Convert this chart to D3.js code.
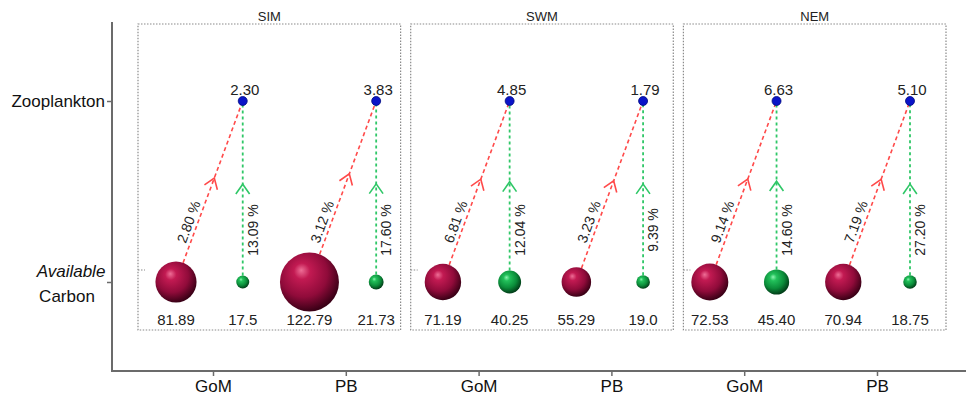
<!DOCTYPE html>
<html>
<head>
<meta charset="utf-8">
<script src="https://cdn.jsdelivr.net/npm/d3@7"></script>
<style>
  body{margin:0;background:#fff;}
  svg{font-family:"Liberation Sans",Arial,sans-serif;}
</style>
</head>
<body>
<svg id="drawing_region"></svg>
<script>
// data
const regions = ["SIM","SWM","NEM"]
const sites = ["GoM","PB"]
const levels = ["Available Carbon","Zooplankton"]
const redCarbon = ["81.89","122.79","71.19","55.29","72.53","70.94"]
const greenCarbon = ["17.5","21.73","40.25","19.0","45.40","18.75"]
const zooCarbon = ["2.30","3.83","4.85","1.79","6.63","5.10"]
const redPct = ["2.80","3.12","6.81","3.23","9.14","7.19"]
const greenPct = ["13.09","17.60","12.04","9.39","14.60","27.20"]

const config = {
    parent:"#drawing_region",
    width:966,
    height:402
}

const svg = d3.select(config.parent)
    .attr("width",config.width)
    .attr("height",config.height)

const defs = svg.append("defs")
function ball(id,stops){
    const g = defs.append("radialGradient")
        .attr("id",id)
        .attr("cx","42%").attr("cy","38%").attr("r","62%")
        .attr("fx","36%").attr("fy","30%")
    stops.forEach(s=>{
        g.append("stop").attr("offset",s[0]).attr("stop-color",s[1])
    })
}
ball("redBall",[[0,"#ee6e96"],[0.22,"#c21a52"],[0.65,"#900b3a"],[1,"#3a0016"]])
ball("greenBall",[[0,"#8cf5b0"],[0.22,"#22c05a"],[0.65,"#0b8d3a"],[1,"#023d18"]])

// scales
const flows = d3.range(regions.length*sites.length).map(i=>({
    i:i,
    region:regions[Math.floor(i/2)],
    site:sites[i%2],
    red:+redCarbon[i], redLabel:redCarbon[i],
    green:+greenCarbon[i], greenLabel:greenCarbon[i],
    zoo:zooCarbon[i],
    redPct:redPct[i], greenPct:greenPct[i]
}))

const xslot = d3.scalePoint()
    .domain(d3.range(flows.length*2))
    .range([176,910])
const xaxisScale = d3.scalePoint()
    .domain(flows.map(d=>d.region+"-"+d.site))
    .range([213,877])
const panel = d3.scaleBand()
    .domain(regions)
    .range([138,946])
    .paddingInner(0.037)
const yscale = d3.scalePoint()
    .domain(levels)
    .range([282,101])
const rscale = d3.scaleLinear()
    .domain([17.5,122.79])
    .range([6.5,29.5])

// axes
const axisColor = "#6b6b6b"
svg.append("line")
    .attr("x1",112).attr("x2",112)
    .attr("y1",22).attr("y2",371)
    .attr("stroke",axisColor).attr("stroke-width",2)
svg.append("line")
    .attr("x1",111).attr("x2",966)
    .attr("y1",371).attr("y2",371)
    .attr("stroke",axisColor).attr("stroke-width",2)

const xaxis_group = svg.append("g")
    .attr("transform","translate(0,371)")
    .call(d3.axisBottom(xaxisScale).tickSize(5).tickPadding(4).tickFormat(d=>d.split("-")[1]))
xaxis_group.select(".domain").remove()
xaxis_group.selectAll("line").attr("stroke",axisColor).attr("stroke-width",1.5)
xaxis_group.selectAll("text")
    .attr("font-size","17px")
    .attr("font-family","Liberation Sans, Arial, sans-serif")
    .attr("fill","#111")

const yaxis_group = svg.append("g")
    .attr("transform","translate(112,0)")
    .call(d3.axisLeft(yscale).tickSize(5).tickFormat(""))
yaxis_group.select(".domain").remove()
yaxis_group.selectAll("line").attr("stroke",axisColor).attr("stroke-width",1.5)

svg.append("text")
    .attr("x",105).attr("y",yscale("Zooplankton"))
    .attr("dy","0.36em")
    .attr("text-anchor","end")
    .attr("font-size","17px")
    .attr("fill","#111")
    .text("Zooplankton")
const avail = svg.append("text")
    .attr("text-anchor","middle")
    .attr("font-size","17px")
    .attr("fill","#111")
avail.append("tspan")
    .attr("x",71).attr("y",yscale("Available Carbon")-5)
    .attr("font-style","italic")
    .text("Available")
avail.append("tspan")
    .attr("x",67).attr("y",yscale("Available Carbon")+20)
    .text("Carbon")

// panels
const panels = svg.append("g")
panels.selectAll("rect")
    .data(regions)
    .enter()
    .append("rect")
    .attr("x",d=>panel(d))
    .attr("y",24)
    .attr("width",panel.bandwidth())
    .attr("height",306)
    .attr("fill","none")
    .attr("stroke","#8a8a8a")
    .attr("stroke-width",1.2)
    .attr("stroke-dasharray","1.5,1.5")
panels.selectAll("line")
    .data(regions)
    .enter()
    .append("line")
    .attr("x1",d=>panel(d)).attr("x2",d=>panel(d)+7)
    .attr("y1",270).attr("y2",270)
    .attr("stroke","#8a8a8a")
    .attr("stroke-width",1.2)
    .attr("stroke-dasharray","1.5,1.5")
panels.selectAll("text")
    .data(regions)
    .enter()
    .append("text")
    .attr("x",d=>panel(d)+panel.bandwidth()/2)
    .attr("y",21)
    .attr("text-anchor","middle")
    .attr("font-size","13px")
    .attr("fill","#222")
    .text(d=>d)

// flows
const chart = svg.append("g")
const yC = yscale("Available Carbon")
const yZ = yscale("Zooplankton")

function geom(x0,r,x1){
    const dx = x1-x0, dy = yZ-yC
    const len = Math.sqrt(dx*dx+dy*dy)
    const ux = dx/len, uy = dy/len
    const sx = x0+ux*r, sy = yC+uy*r
    return {sx:sx,sy:sy,ux:ux,uy:uy,ex:x1,ey:yZ,
        mx:(sx+x1)/2+ux*4, my:(sy+yZ)/2+uy*4}
}
function chevron(g){
    const L = 12, a = 35*Math.PI/180
    const bx = -g.ux, by = -g.uy
    const p1 = [g.mx+L*(bx*Math.cos(a)-by*Math.sin(a)), g.my+L*(bx*Math.sin(a)+by*Math.cos(a))]
    const p2 = [g.mx+L*(bx*Math.cos(-a)-by*Math.sin(-a)), g.my+L*(bx*Math.sin(-a)+by*Math.cos(-a))]
    return `M${p1[0]},${p1[1]}L${g.mx},${g.my}L${p2[0]},${p2[1]}`
}

flows.forEach(d=>{
    const xr = xslot(d.i*2), xg = xslot(d.i*2+1)
    const rr = rscale(d.red), rg = rscale(d.green)
    const gr = geom(xr,rr,xg)
    const gg = geom(xg,rg,xg)

    chart.append("line")
        .attr("x1",gr.sx).attr("y1",gr.sy).attr("x2",gr.ex).attr("y2",gr.ey)
        .attr("stroke","#ff4a4a").attr("stroke-width",1.6)
        .attr("stroke-dasharray","4,3")
    chart.append("path")
        .attr("d",chevron(gr))
        .attr("fill","none").attr("stroke","#ff4a4a").attr("stroke-width",1.6)
    chart.append("line")
        .attr("x1",gg.sx).attr("y1",gg.sy).attr("x2",gg.ex).attr("y2",gg.ey)
        .attr("stroke","#2fc767").attr("stroke-width",1.8)
        .attr("stroke-dasharray","3,3")
    chart.append("path")
        .attr("d",chevron(gg))
        .attr("fill","none").attr("stroke","#2fc767").attr("stroke-width",1.6)

    // percent labels
    const ly = 225
    const t = (yC-ly)/(yC-yZ)
    const lx = xr+(xg-xr)*t
    const ang = Math.atan2(gr.uy,gr.ux)*180/Math.PI
    chart.append("text")
        .attr("transform",`translate(${lx+gr.uy*9},${ly-gr.ux*9}) rotate(${ang})`)
        .attr("text-anchor","middle")
        .attr("dominant-baseline","central")
        .attr("font-size","14px")
        .attr("fill","#222")
        .text(d.redPct+" %")
    chart.append("text")
        .attr("transform",`translate(${xg+10},230) rotate(-90)`)
        .attr("text-anchor","middle")
        .attr("dominant-baseline","central")
        .attr("font-size","14px")
        .attr("fill","#222")
        .text(d.greenPct+" %")

    // bubbles
    chart.append("circle")
        .attr("cx",xr).attr("cy",yC).attr("r",rr)
        .attr("fill","url(#redBall)")
    chart.append("circle")
        .attr("cx",xg).attr("cy",yC).attr("r",rg)
        .attr("fill","url(#greenBall)")
    chart.append("circle")
        .attr("cx",xg).attr("cy",yZ).attr("r",4.5)
        .attr("fill","#0a14c8").attr("stroke","#000a80").attr("stroke-width",0.8)

    // value labels
    chart.append("text")
        .attr("x",xg+2).attr("y",yZ-6)
        .attr("text-anchor","middle")
        .attr("font-size","15px")
        .attr("fill","#222")
        .text(d.zoo)
    chart.append("text")
        .attr("x",xr).attr("y",325)
        .attr("text-anchor","middle")
        .attr("font-size","15px")
        .attr("fill","#222")
        .text(d.redLabel)
    chart.append("text")
        .attr("x",xg).attr("y",325)
        .attr("text-anchor","middle")
        .attr("font-size","15px")
        .attr("fill","#222")
        .text(d.greenLabel)
})
</script>
</body>
</html>
